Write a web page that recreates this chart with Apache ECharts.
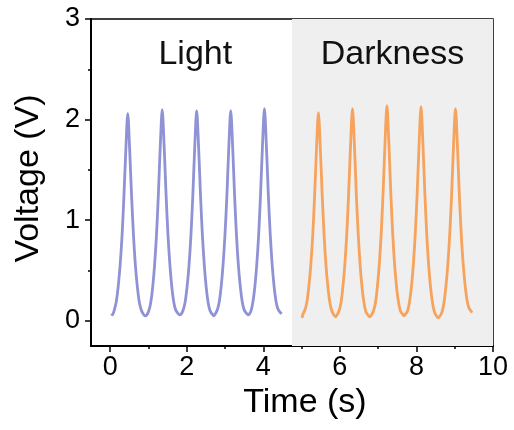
<!DOCTYPE html>
<html>
<head>
<meta charset="utf-8">
<script src="https://cdn.jsdelivr.net/npm/echarts@6/dist/echarts.min.js"></script>
<style>
  html, body { margin: 0; padding: 0; background: #fff; }
  #chart { width: 514px; height: 430px; }
</style>
</head>
<body>
<div id="chart"></div>
<script>
// x / y ticks
const xMajor = [0, 2, 4, 6, 8, 10]
const xMinor = [1, 3, 5, 7, 9]
const yMajor = [0, 1, 2, 3]
const yMinor = [0.5, 1.5, 2.5]

// regions: [start, end]
const lightRegion = [-0.3, 4.75]
const darkRegion = [4.75, 10]

// voltage under light, [time, V]
const lightData = [
  [0.03, 0.07], [0.06, 0.06], [0.11, 0.11], [0.16, 0.19], [0.21, 0.34], [0.26, 0.55], [0.31, 0.84], [0.36, 1.24], [0.41, 1.70], [0.46, 2.06],
  [0.51, 1.70], [0.56, 1.24], [0.61, 0.85], [0.66, 0.55], [0.71, 0.34], [0.76, 0.19], [0.81, 0.11], [0.86, 0.07], [0.91, 0.05],
  [0.96, 0.06], [1.01, 0.10], [1.06, 0.18], [1.11, 0.33], [1.16, 0.55], [1.21, 0.85], [1.26, 1.26], [1.31, 1.74], [1.36, 2.10],
  [1.41, 1.74], [1.46, 1.26], [1.51, 0.86], [1.56, 0.56], [1.61, 0.34], [1.66, 0.19], [1.71, 0.11], [1.76, 0.08], [1.81, 0.06],
  [1.86, 0.07], [1.91, 0.11], [1.96, 0.19], [2.01, 0.34], [2.06, 0.55], [2.11, 0.85], [2.16, 1.25], [2.21, 1.73], [2.26, 2.09],
  [2.31, 1.73], [2.36, 1.25], [2.41, 0.85], [2.46, 0.55], [2.51, 0.33], [2.56, 0.18], [2.61, 0.10], [2.66, 0.07], [2.71, 0.05],
  [2.75, 0.07], [2.80, 0.11], [2.85, 0.19], [2.90, 0.34], [2.95, 0.56], [3.00, 0.86], [3.05, 1.25], [3.10, 1.73], [3.15, 2.09],
  [3.20, 1.73], [3.25, 1.25], [3.30, 0.85], [3.35, 0.55], [3.40, 0.34], [3.45, 0.19], [3.50, 0.11], [3.55, 0.08], [3.60, 0.06],
  [3.64, 0.07], [3.68, 0.10], [3.73, 0.19], [3.78, 0.34], [3.83, 0.56], [3.88, 0.86], [3.93, 1.27], [3.98, 1.75], [4.03, 2.11],
  [4.08, 1.75], [4.13, 1.27], [4.18, 0.87], [4.23, 0.57], [4.28, 0.35], [4.33, 0.20], [4.38, 0.12], [4.43, 0.09], [4.48, 0.07]
]

// voltage in darkness, [time, V]
const darkData = [
  [5.01, 0.03], [5.04, 0.07], [5.09, 0.11], [5.14, 0.19], [5.19, 0.34], [5.24, 0.55], [5.29, 0.84], [5.34, 1.24], [5.39, 1.71], [5.44, 2.07],
  [5.49, 1.71], [5.54, 1.24], [5.59, 0.84], [5.64, 0.54], [5.69, 0.33], [5.74, 0.18], [5.79, 0.10], [5.84, 0.06], [5.89, 0.04],
  [5.93, 0.06], [5.98, 0.10], [6.03, 0.18], [6.08, 0.34], [6.13, 0.56], [6.18, 0.86], [6.23, 1.27], [6.28, 1.75], [6.33, 2.11],
  [6.38, 1.75], [6.43, 1.26], [6.48, 0.86], [6.53, 0.55], [6.58, 0.33], [6.63, 0.18], [6.68, 0.09], [6.73, 0.06], [6.78, 0.04],
  [6.83, 0.06], [6.88, 0.10], [6.93, 0.18], [6.98, 0.34], [7.03, 0.56], [7.08, 0.87], [7.13, 1.28], [7.18, 1.77], [7.23, 2.14],
  [7.28, 1.77], [7.33, 1.28], [7.38, 0.87], [7.43, 0.56], [7.48, 0.34], [7.53, 0.19], [7.58, 0.10], [7.63, 0.07], [7.68, 0.05],
  [7.72, 0.07], [7.77, 0.10], [7.82, 0.19], [7.87, 0.34], [7.92, 0.56], [7.97, 0.87], [8.02, 1.27], [8.07, 1.76], [8.12, 2.13],
  [8.17, 1.76], [8.22, 1.27], [8.27, 0.86], [8.32, 0.55], [8.37, 0.33], [8.42, 0.18], [8.47, 0.09], [8.52, 0.05], [8.57, 0.03],
  [8.62, 0.05], [8.67, 0.09], [8.72, 0.18], [8.77, 0.34], [8.82, 0.56], [8.87, 0.86], [8.92, 1.26], [8.97, 1.75], [9.02, 2.11],
  [9.07, 1.75], [9.12, 1.26], [9.17, 0.87], [9.22, 0.57], [9.27, 0.36], [9.32, 0.21], [9.37, 0.13], [9.42, 0.10], [9.45, 0.08]
]

const font = "'Liberation Sans', Arial, sans-serif"
const chart = echarts.init(document.getElementById('chart'))

const baseX = {
  type: 'value', min: -0.5, max: 10, position: 'bottom',
  splitLine: { show: false }
}
const baseY = {
  type: 'value', min: -0.25, max: 3, position: 'left',
  splitLine: { show: false }
}

const annotLabel = { show: true, position: 'insideTop', distance: 19, fontSize: 34, color: '#111', fontFamily: font }

chart.setOption({
  animation: false,
  grid: {
    left: 91, right: 21, top: 19, bottom: 84,
    show: true, borderColor: '#000', borderWidth: 1.5
  },
  xAxis: [
    {
      ...baseX,
      name: 'Time (s)', nameLocation: 'middle', nameGap: 40,
      nameTextStyle: { fontSize: 34, color: '#000', fontFamily: font, padding: [0, 0, 0, 26] },
      axisLine: { show: true, onZero: false, lineStyle: { color: '#000', width: 2 } },
      axisTick: { show: true, customValues: xMajor, length: 6, lineStyle: { color: '#000', width: 1.5 } },
      axisLabel: { customValues: xMajor, fontSize: 27, color: '#000', fontFamily: font, margin: 8 }
    },
    {
      ...baseX,
      axisLine: { show: false, onZero: false },
      axisTick: { show: true, customValues: xMinor, length: 3, lineStyle: { color: '#000', width: 1.5 } },
      axisLabel: { show: false }
    }
  ],
  yAxis: [
    {
      ...baseY,
      name: 'Voltage (V)', nameLocation: 'middle', nameGap: 45,
      nameTextStyle: { fontSize: 34, color: '#000', fontFamily: font, padding: [0, 0, 0, 8] },
      axisLine: { show: true, onZero: false, lineStyle: { color: '#000', width: 2 } },
      axisTick: { show: true, customValues: yMajor, length: 6, lineStyle: { color: '#000', width: 1.5 } },
      axisLabel: { customValues: yMajor, fontSize: 27, color: '#000', fontFamily: font, margin: 11 }
    },
    {
      ...baseY,
      axisLine: { show: false, onZero: false },
      axisTick: { show: true, customValues: yMinor, length: 3, lineStyle: { color: '#000', width: 1.5 } },
      axisLabel: { show: false }
    }
  ],
  series: [
    {
      name: 'Light', type: 'line', data: lightData,
      showSymbol: false, smooth: 0.3, silent: true,
      lineStyle: { color: '#8f92d5', width: 2.8 },
      markArea: {
        silent: true,
        itemStyle: { color: 'rgba(0,0,0,0)' },
        label: annotLabel,
        data: [[{ name: 'Light', xAxis: lightRegion[0] }, { xAxis: lightRegion[1] }]]
      }
    },
    {
      name: 'Darkness', type: 'line', data: darkData,
      showSymbol: false, smooth: 0.3, silent: true,
      lineStyle: { color: '#f6a35d', width: 2.8 },
      markArea: {
        silent: true,
        itemStyle: { color: '#efefef' },
        label: annotLabel,
        data: [[{ name: 'Darkness', xAxis: darkRegion[0] }, { xAxis: darkRegion[1] }]]
      }
    }
  ]
})
</script>
</body>
</html>
